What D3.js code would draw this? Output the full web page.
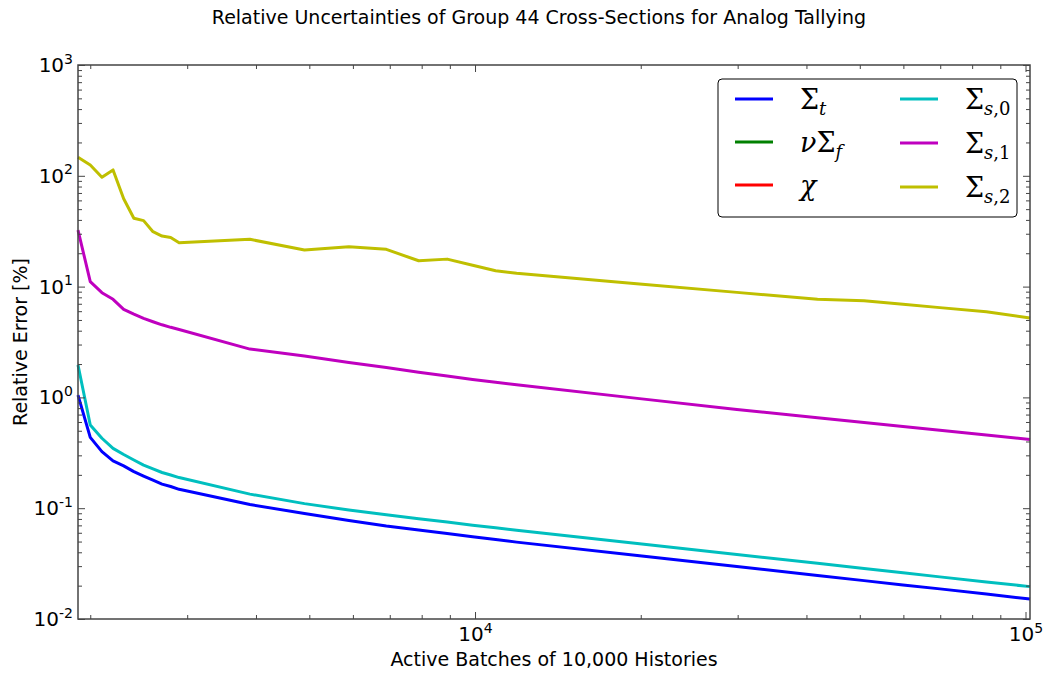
<!DOCTYPE html>
<html>
<head>
<meta charset="utf-8">
<title>Relative Uncertainties of Group 44 Cross-Sections</title>
<script src="https://d3js.org/d3.v7.min.js"></script>
<style>
body { margin: 0; background: #fff; }
text { font-family: "DejaVu Sans", sans-serif; fill: #000; }
.legend text { font-family: "DejaVu Serif", serif; }
</style>
</head>
<body>
<svg id="chart" width="1051" height="674"></svg>
<script>

// active batches (x) shared by every series
var batches = [1900, 2000, 2100, 2200, 2300, 2400, 2500, 2600, 2700, 2800, 2900,
  3900, 4900, 5900, 6900, 7900, 8900, 9900, 10900, 11900,
  19900, 29900, 41900, 50900, 59900, 69900, 84900, 101900];

// relative error [%]
var sigmaT  = [1.05, 0.436, 0.324, 0.267, 0.241, 0.214, 0.195, 0.179, 0.165, 0.157, 0.148,
  0.108, 0.0895, 0.0774, 0.069, 0.0635, 0.0591, 0.0553, 0.0522, 0.0494,
  0.0373, 0.0298, 0.0247, 0.0222, 0.0203, 0.0187, 0.0168, 0.01515];
var nuSigmaF = [];   // not drawn in the picture
var chi      = [];   // not drawn in the picture
var sigmaS0 = [1.96, 0.564, 0.428, 0.347, 0.305, 0.272, 0.245, 0.226, 0.21, 0.1995, 0.189,
  0.134, 0.11, 0.0963, 0.0871, 0.0805, 0.075, 0.0703, 0.0665, 0.0631,
  0.0477, 0.0382, 0.0318, 0.0286, 0.0261, 0.024, 0.0216, 0.0196];
var sigmaS1 = [32.4, 11.07, 8.81, 7.68, 6.24, 5.64, 5.17, 4.82, 4.52, 4.29, 4.10,
  2.73, 2.36, 2.07, 1.86, 1.69, 1.56, 1.45, 1.37, 1.30,
  0.975, 0.779, 0.656, 0.593, 0.546, 0.505, 0.458, 0.417];
var sigmaS2 = [147, 125, 97, 113, 62, 41.4, 39.4, 31.3, 28.6, 27.8, 24.9,
  26.7, 21.4, 22.9, 21.7, 17.1, 17.7, 15.6, 13.9, 13.18,
  10.55, 8.87, 7.68, 7.46, 6.94, 6.46, 5.92, 5.2];

var xMajor = [1e4, 1e5];
var xMinor = [2000, 3000, 4000, 5000, 6000, 7000, 8000, 9000,
  20000, 30000, 40000, 50000, 60000, 70000, 80000, 90000];
var yMajor = [1e-2, 1e-1, 1e0, 1e1, 1e2, 1e3];
var yMinor = [];
[1e-2, 1e-1, 1e0, 1e1, 1e2].forEach(function(dec) {
  [2, 3, 4, 5, 6, 7, 8, 9].forEach(function(m) { yMinor.push(m * dec); });
});

// legend labels: [text, italic, subscript]
var series = [
  {values: sigmaT,   color: "#0000ff", label: [["Σ", 0, 0], ["t", 1, 1]]},
  {values: nuSigmaF, color: "#008000", label: [["ν", 1, 0], ["Σ", 0, 0], ["f", 1, 1]]},
  {values: chi,      color: "#ff0000", label: [["χ", 1, 0]]},
  {values: sigmaS0,  color: "#00bfbf", label: [["Σ", 0, 0], ["s", 1, 1], [",0", 0, 1]]},
  {values: sigmaS1,  color: "#bf00bf", label: [["Σ", 0, 0], ["s", 1, 1], [",1", 0, 1]]},
  {values: sigmaS2,  color: "#bfbf00", label: [["Σ", 0, 0], ["s", 1, 1], [",2", 0, 1]]}
];

var pL = 78, pR = 1030, pT = 65, pB = 619;

var svg = d3.select("#chart");

var x = d3.scaleLog().domain([1900, 101900]).range([pL, pR]);
var y = d3.scaleLog().domain([1e-2, 1e3]).range([pB, pT]);

// lines
var line = d3.line()
  .x(function(d) { return x(d[0]); })
  .y(function(d) { return y(d[1]); });

series.forEach(function(s) {
  if (!s.values.length) return;
  var pts = batches.map(function(b, i) { return [b, s.values[i]]; });
  svg.append("path")
    .datum(pts)
    .attr("d", line)
    .attr("fill", "none")
    .attr("stroke", s.color)
    .attr("stroke-width", 3)
    .attr("stroke-linejoin", "round");
});

function supLabels(g) {
  g.selectAll(".tick text").each(function(d) {
    var t = d3.select(this);
    t.text(null);
    t.append("tspan").text("10");
    t.append("tspan").attr("dy", "-0.6em").attr("font-size", "14px")
      .text(Math.round(Math.log10(d)));
  });
}

function styleAxis(g) {
  g.select(".domain").remove();
  g.selectAll(".tick line").attr("stroke", "#444").attr("stroke-width", 1);
}

// bottom
var gx = svg.append("g").attr("transform", "translate(0," + pB + ")")
  .call(d3.axisBottom(x).tickValues(xMajor).tickSize(-7).tickPadding(8));
gx.selectAll(".tick text").attr("font-size", "20px").attr("font-family", "DejaVu Sans");
supLabels(gx);
styleAxis(gx);
svg.append("g").attr("transform", "translate(0," + pB + ")")
  .call(d3.axisBottom(x).tickValues(xMinor).tickSize(-4).tickFormat(""))
  .call(styleAxis);
// top
svg.append("g").attr("transform", "translate(0," + pT + ")")
  .call(d3.axisTop(x).tickValues(xMajor).tickSize(-7).tickFormat(""))
  .call(styleAxis);
svg.append("g").attr("transform", "translate(0," + pT + ")")
  .call(d3.axisTop(x).tickValues(xMinor).tickSize(-4).tickFormat(""))
  .call(styleAxis);
// left
var gy = svg.append("g").attr("transform", "translate(" + pL + ",0)")
  .call(d3.axisLeft(y).tickValues(yMajor).tickSize(-7).tickPadding(5));
gy.selectAll(".tick text").attr("font-size", "20px").attr("font-family", "DejaVu Sans");
supLabels(gy);
styleAxis(gy);
svg.append("g").attr("transform", "translate(" + pL + ",0)")
  .call(d3.axisLeft(y).tickValues(yMinor).tickSize(-4).tickFormat(""))
  .call(styleAxis);
// right
svg.append("g").attr("transform", "translate(" + pR + ",0)")
  .call(d3.axisRight(y).tickValues(yMajor).tickSize(-7).tickFormat(""))
  .call(styleAxis);
svg.append("g").attr("transform", "translate(" + pR + ",0)")
  .call(d3.axisRight(y).tickValues(yMinor).tickSize(-4).tickFormat(""))
  .call(styleAxis);

// frame
svg.append("rect")
  .attr("x", pL).attr("y", pT)
  .attr("width", pR - pL).attr("height", pB - pT)
  .attr("fill", "none").attr("stroke", "#444").attr("stroke-width", 1.5);

// titles
svg.append("text")
  .attr("x", 539).attr("y", 24)
  .attr("text-anchor", "middle").attr("font-size", "19px")
  .text("Relative Uncertainties of Group 44 Cross-Sections for Analog Tallying");

svg.append("text")
  .attr("x", (pL + pR) / 2).attr("y", 666)
  .attr("text-anchor", "middle").attr("font-size", "19px")
  .text("Active Batches of 10,000 Histories");

svg.append("text")
  .attr("transform", "translate(27," + ((pT + pB) / 2) + ") rotate(-90)")
  .attr("text-anchor", "middle").attr("font-size", "19px")
  .text("Relative Error [%]");

// legend
var leg = svg.append("g").attr("class", "legend");
leg.append("rect")
  .attr("x", 718).attr("y", 79).attr("width", 299).attr("height", 138)
  .attr("rx", 4).attr("ry", 4)
  .attr("fill", "#fff").attr("stroke", "#000").attr("stroke-width", 1);

var rowY = [99, 142, 185];
series.forEach(function(s, i) {
  var col = Math.floor(i / 3), row = i % 3;
  var lx = col === 0 ? 735 : 900;
  var ly = rowY[row] + (col === 1 ? row : 0);
  leg.append("line")
    .attr("x1", lx).attr("x2", lx + 38)
    .attr("y1", ly).attr("y2", ly)
    .attr("stroke", s.color).attr("stroke-width", 3);
  var t = leg.append("text")
    .attr("x", lx + 65).attr("y", ly + 10)
    .attr("font-size", "27px");
  var inSub = false;
  s.label.forEach(function(p) {
    var ts = t.append("tspan").text(p[0])
      .attr("font-style", p[1] ? "italic" : "normal");
    if (p[2]) {
      ts.attr("font-size", "18px");
      if (!inSub) { ts.attr("dy", 6); inSub = true; }
    }
  });
});

</script>
</body>
</html>
